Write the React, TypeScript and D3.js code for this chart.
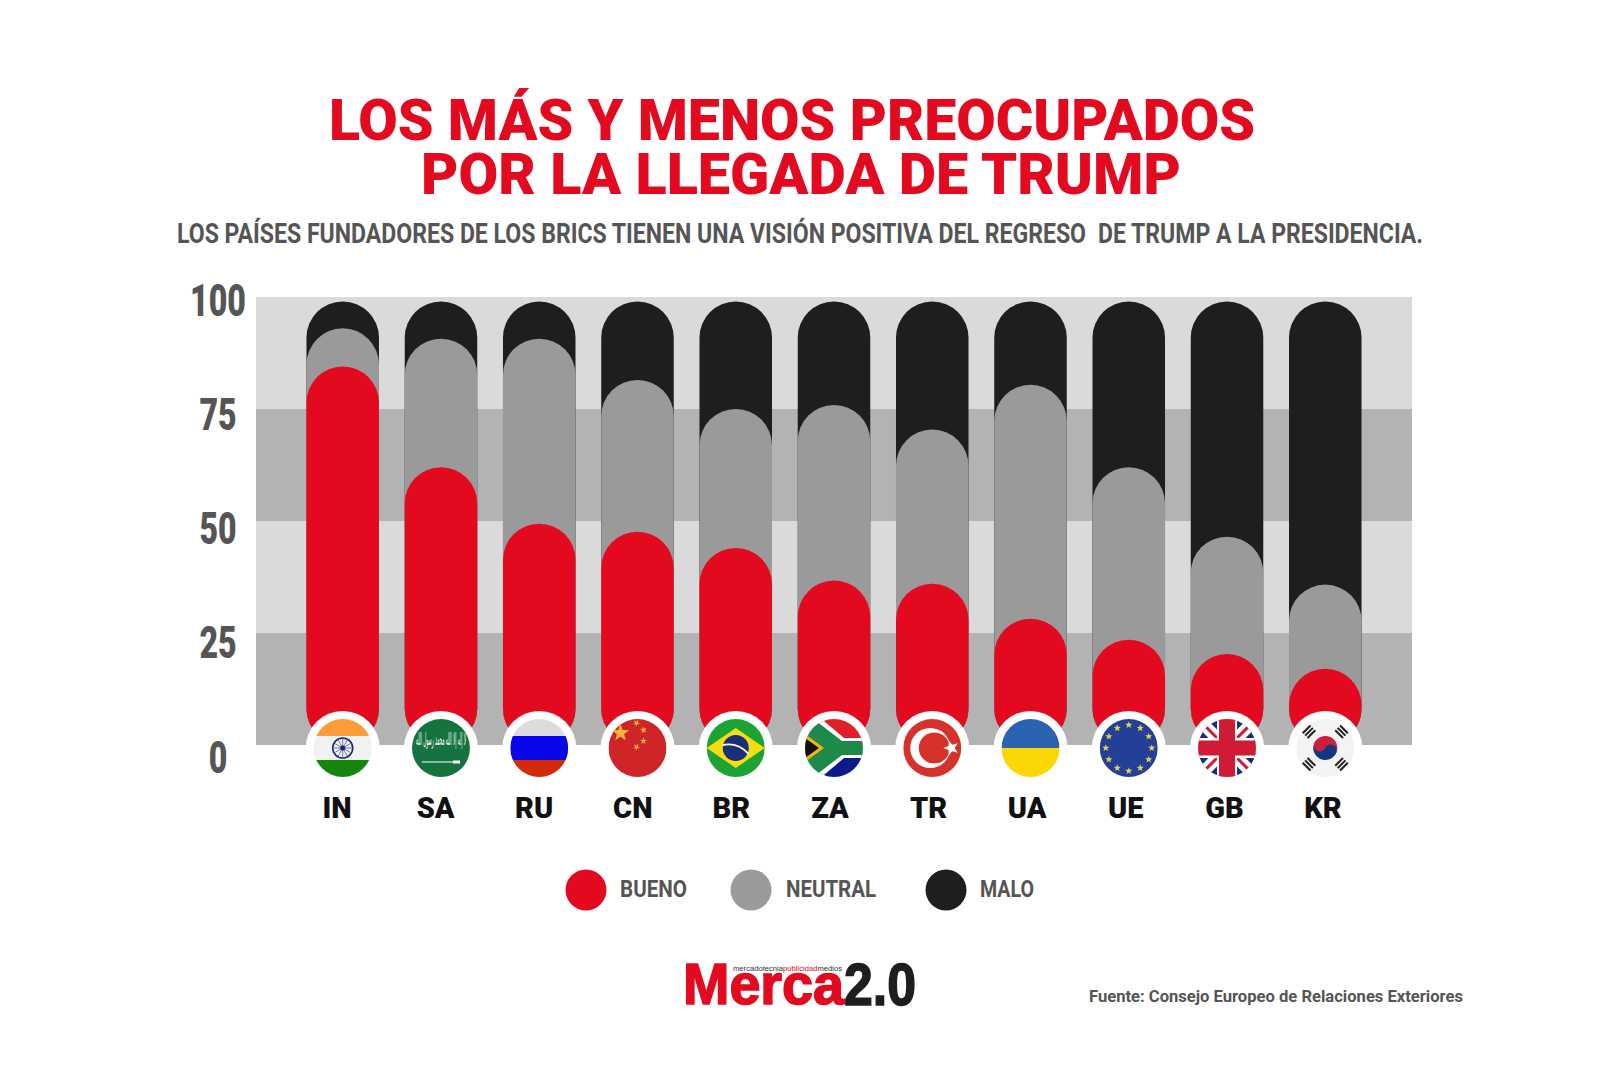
import * as d3 from "d3";

const CATEGORIES = ["IN", "SA", "RU", "CN", "BR", "ZA", "TR", "UA", "UE", "GB", "KR"];
const BUENO = [84.5, 62, 49.4, 47.6, 44, 36.7, 36, 28.2, 23.5, 20.3, 17];
const NEUTRAL = [8.5, 28.7, 41.3, 33.9, 31, 39.2, 34.4, 52.2, 38.5, 26.2, 18.8];
const MALO = [6, 8.3, 8.3, 17.5, 24, 23.1, 28.6, 18.6, 37, 52.5, 63.2];
const Y_TICKS = [0, 25, 50, 75, 100];
const LEGEND = [
  { label: "BUENO", color: "#e30a20" },
  { label: "NEUTRAL", color: "#9a9a9a" },
  { label: "MALO", color: "#1e1e1e" },
];

const FONT = "Roboto, sans-serif";
const INK = "#555555";

const x = d3.scaleBand<string>().domain(CATEGORIES).range([293.6, 1374.4]).paddingInner(0.262).paddingOuter(0.131);
const y = d3.scaleLinear().domain([0, 100]).range([745, 297]);
// the tick labels and country codes sit on their own slightly different grid
const yLabel = d3.scaleLinear().domain([0, 100]).range([756.5, 299.5]);
const xLabel = d3.scalePoint<string>().domain(CATEGORIES).range([337, 1323]);

const rows = CATEGORIES.map((c, i) => ({ c, bueno: BUENO[i], neutral: NEUTRAL[i], malo: MALO[i] }));
const stacked = d3.stack<(typeof rows)[number]>().keys(["bueno", "neutral", "malo"])(rows);

function starPath(cx: number, cy: number, r: number, rot = -90) {
  const pts = d3.range(10).map((i) => {
    const a = ((rot + i * 36) * Math.PI) / 180;
    const rad = i % 2 ? r * 0.42 : r;
    return [cx + rad * Math.cos(a), cy + rad * Math.sin(a)];
  });
  return "M" + pts.map((p) => p.join(",")).join("L") + "Z";
}

function Flag({ code }: { code: string }) {
  const R = 29;
  const W = 2 * R;
  const rect = (yy: number, h: number, fill: string) => <rect x={-R} y={yy} width={W} height={h} fill={fill} />;
  switch (code) {
    case "IN":
      return (
        <g>
          {rect(-R, 17, "#fb9c37")}
          {rect(-12, 24, "#f1f1f1")}
          {rect(12, 17, "#16860f")}
          <circle r={10} fill="none" stroke="#1d2a78" strokeWidth={1.6} />
          <circle r={2.5} fill="#1d2a78" />
          {d3.range(12).map((i) => (
            <line key={i} x2={9 * Math.cos((i * Math.PI) / 6)} y2={9 * Math.sin((i * Math.PI) / 6)} stroke="#1d2a78" strokeWidth={0.6} />
          ))}
        </g>
      );
    case "SA":
      return (
        <g>
          {rect(-R, W, "#14733f")}
          <text y={-3} textAnchor="middle" fontFamily="DejaVu Sans" fontSize={17} fill="#fff" textLength={50} lengthAdjust="spacingAndGlyphs">
            لا إله إلا الله محمد رسول الله
          </text>
          <line x1={-19} x2={15} y1={14} y2={14} stroke="#fff" strokeWidth={1} />
          <rect x={12} y={12.5} width={7} height={3} fill="#fff" />
        </g>
      );
    case "RU":
      return (
        <g>
          {rect(-R, 17, "#dcdcdc")}
          {rect(-12, 24, "#0606e6")}
          {rect(12, 17, "#d42a0c")}
        </g>
      );
    case "CN":
      return (
        <g>
          {rect(-R, W, "#cf2529")}
          <path d={starPath(-17, -15, 9)} fill="#f9b233" />
          <path d={starPath(-1, -25, 3.6, -60)} fill="#f9b233" />
          <path d={starPath(6, -18, 3.6, -30)} fill="#f9b233" />
          <path d={starPath(6, -7, 3.6, -90)} fill="#f9b233" />
          <path d={starPath(-1, -1, 3.6, -60)} fill="#f9b233" />
        </g>
      );
    case "BR":
      return (
        <g>
          {rect(-R, W, "#1ba334")}
          <path d="M0,-20L29,0L0,20L-29,0Z" fill="#f6dd12" />
          <circle r={13} fill="#1a2f7c" />
          <path d="M-13,-3Q2,-6 13,6" fill="none" stroke="#fff" strokeWidth={1.8} />
        </g>
      );
    case "ZA":
      return (
        <g>
          {rect(-R, 29, "#e01f26")}
          {rect(0, 29, "#0b1b8c")}
          <path d="M-29,-32L-16,-32L10,-10L29,-10L29,10L10,10L-16,32L-29,32Z" fill="#fff" />
          <path d="M-29,-27L-18,-27L8,-7L29,-7L29,7L8,7L-18,27L-29,27Z" fill="#1c8a4a" />
          <path d="M-29,-14L-10,0L-29,14Z" fill="#f5b70c" />
          <path d="M-29,-10L-15,0L-29,10Z" fill="#111" />
        </g>
      );
    case "TR":
      return (
        <g>
          {rect(-R, W, "#d6322c")}
          <circle cx={-2} r={20} fill="#fff" />
          <circle cx={2} r={15.5} fill="#d6322c" />
          <path d={starPath(19, 0, 8, 180)} fill="#fff" />
        </g>
      );
    case "UA":
      return (
        <g>
          {rect(-R, 29, "#2a63b0")}
          {rect(0, 29, "#fbd705")}
        </g>
      );
    case "UE":
      return (
        <g>
          {rect(-R, W, "#243f98")}
          {d3.range(12).map((i) => (
            <path
              key={i}
              d={starPath(23 * Math.cos((i * Math.PI) / 6), 23 * Math.sin((i * Math.PI) / 6), 3.8)}
              fill="#e4d24a"
            />
          ))}
        </g>
      );
    case "GB":
      return (
        <g>
          {rect(-R, W, "#1d2a7a")}
          <path d="M-29,-29L29,29M29,-29L-29,29" stroke="#fff" strokeWidth={12} />
          <path d="M-29,-29L29,29M29,-29L-29,29" stroke="#cf1b36" strokeWidth={3} />
          <rect x={-10} y={-29} width={20} height={58} fill="#fff" />
          <rect x={-29} y={-10} width={58} height={20} fill="#fff" />
          <rect x={-8} y={-29} width={16} height={58} fill="#cf1b36" />
          <rect x={-29} y={-7.5} width={58} height={15} fill="#cf1b36" />
        </g>
      );
    default:
      return (
        <g>
          {rect(-R, W, "#f3f3f3")}
          <path d="M-12,0A12,12 0 0 1 12,0Z" fill="#cd1f3c" transform="rotate(25)" />
          <path d="M-12,0A12,12 0 0 0 12,0Z" fill="#12367f" transform="rotate(25)" />
          <circle cx={-5.4} cy={-2.5} r={6} fill="#cd1f3c" />
          <circle cx={5.4} cy={2.5} r={6} fill="#12367f" />
          {[-45, 45, 135, 225].map((a) => (
            <g key={a} transform={`rotate(${a + 90}) translate(0,-23)`}>
              {[-3.4, 0, 3.4].map((d) => (
                <rect key={d} x={-5.5} y={d - 1} width={11} height={2} fill="#222" />
              ))}
            </g>
          ))}
        </g>
      );
  }
}

type LabelProps = {
  text: string;
  left: number;
  width: number;
  baseline: number;
  size: number;
  fill: string;
  weight?: number;
};

// fits Roboto to the measured width, the original face is a condensed DIN
function Fit({ text, left, width, baseline, size, fill, weight = 700 }: LabelProps) {
  return (
    <text
      x={left}
      y={baseline}
      fontFamily={FONT}
      fontSize={size}
      fontWeight={weight}
      fill={fill}
      textLength={width}
      lengthAdjust="spacingAndGlyphs"
    >
      {text}
    </text>
  );
}

export default function App() {
  const bandW = x.bandwidth();
  const order = [...stacked].reverse();
  return (
    <svg width={1600} height={1066} style={{ position: "absolute", left: 0, top: 0, background: "#fff" }}>
      <Fit text="LOS MÁS Y MENOS PREOCUPADOS" left={329} width={926} baseline={140} size={57} fill="#e30a20" weight={900} />
      <Fit text="POR LA LLEGADA DE TRUMP" left={421} width={760} baseline={194} size={57} fill="#e30a20" weight={900} />
      <Fit
        text="LOS PAÍSES FUNDADORES DE LOS BRICS TIENEN UNA VISIÓN POSITIVA DEL REGRESO"
        left={177}
        width={909}
        baseline={243}
        size={27}
        fill={INK}
      />
      <Fit text="DE TRUMP A LA PRESIDENCIA." left={1098} width={325} baseline={243} size={27} fill={INK} />

      {Y_TICKS.slice(1).map((t, i) => (
        <rect
          key={t}
          x={256}
          y={y(t)}
          width={1156}
          height={y(Y_TICKS[i]) - y(t)}
          fill={i % 2 ? "#dadada" : "#b3b3b3"}
        />
      ))}

      {Y_TICKS.map((t) => {
        const w = String(t).length * 18.6;
        return <Fit key={t} text={String(t)} left={218 - w / 2} width={w} baseline={yLabel(t) + 16} size={44} fill={INK} weight={900} />;
      })}

      {order.map((layer) => (
        <g key={layer.key} fill={LEGEND[layer.index].color}>
          {layer.map((d) => (
            <rect
              key={d.data.c}
              x={x(d.data.c)}
              y={y(d[1])}
              width={bandW}
              height={y(0) - y(d[1])}
              rx={bandW / 2}
            />
          ))}
        </g>
      ))}

      <defs>
        <clipPath id="flag-clip">
          <circle r={29} />
        </clipPath>
      </defs>
      {CATEGORIES.map((c) => (
        <g key={c} transform={`translate(${(x(c) ?? 0) + bandW / 2},748)`}>
          <circle r={37} fill="#fff" />
          <g clipPath="url(#flag-clip)">
            <Flag code={c} />
          </g>
        </g>
      ))}
      {CATEGORIES.map((c) => (
        <text
          key={c}
          x={xLabel(c)}
          y={818}
          textAnchor="middle"
          fontFamily={FONT}
          fontSize={29}
          fontWeight={900}
          fill="#111"
        >
          {c}
        </text>
      ))}

      {LEGEND.map((l, i) => (
        <g key={l.label}>
          <circle cx={[586, 751, 946][i]} cy={890} r={20.5} fill={l.color} />
          <Fit
            text={l.label}
            left={[620, 786, 980][i]}
            width={[67, 90, 54][i]}
            baseline={897}
            size={24}
            fill={INK}
          />
        </g>
      ))}

      <g fontFamily="'Liberation Sans', Arial, sans-serif" fontWeight={700}>
        <text x={683} y={1004} fontSize={57} fill="#e30a20" stroke="#e30a20" strokeWidth={1.6} textLength={161} lengthAdjust="spacingAndGlyphs">
          Merca
        </text>
        <text x={844} y={1005} fontSize={60} fill="#1e1e1e" stroke="#1e1e1e" strokeWidth={1.6} textLength={72} lengthAdjust="spacingAndGlyphs">
          2.0
        </text>
        <text x={733} y={971} fontSize={7.5} fontWeight={400} fill="#333" textLength={109} lengthAdjust="spacingAndGlyphs">
          mercadotecnia<tspan fill="#e30a20">publicidad</tspan>medios
        </text>
      </g>

      <Fit text="Fuente: Consejo Europeo de Relaciones Exteriores" left={1089} width={374} baseline={1002} size={17} fill={INK} />
    </svg>
  );
}
